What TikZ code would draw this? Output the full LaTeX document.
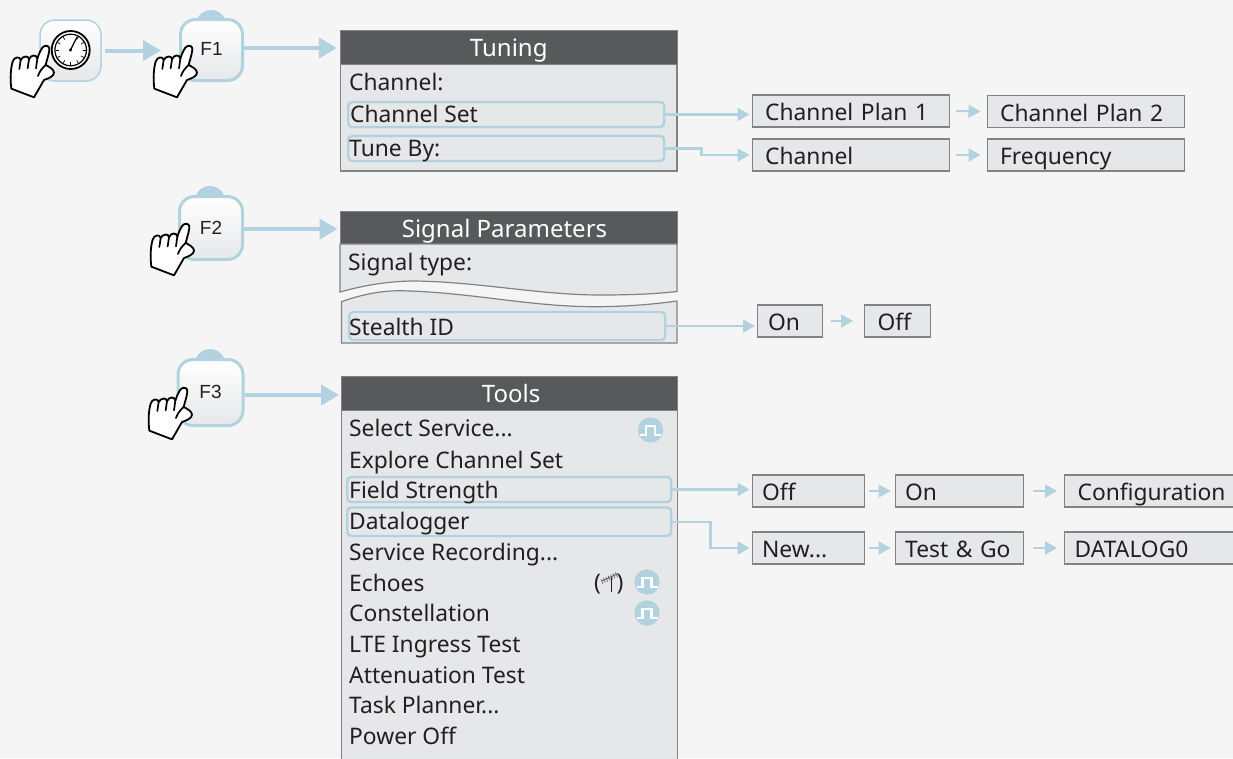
\documentclass[tikz,border=0pt]{standalone}
\usepackage{fontspec}
\setmainfont{Noto Sans}
\newfontfamily\btnfont{Liberation Sans}
\usetikzlibrary{arrows.meta,calc}
\definecolor{bg}{HTML}{F5F5F5}
\definecolor{hl}{HTML}{B1D2DE}
\definecolor{bodyc}{HTML}{E6E7E9}
\definecolor{titlec}{HTML}{58595B}
\definecolor{edge}{HTML}{808285}
\definecolor{ink}{HTML}{231F20}
\tikzset{
  x=1pt,y=-1pt,
  txt/.style={font=\fontsize{22.8}{26}\selectfont,text=ink,inner sep=0pt},
  lbl/.style={txt,anchor=base west},
  panel/.style={draw=edge,line width=1.2pt,fill=bodyc,inner sep=0pt},
  titlebar/.style={fill=titlec,draw=edge,line width=1pt,text=white,font=\fontsize{24}{28}\selectfont,inner sep=0pt,anchor=north,text height=21pt,text depth=3pt},
  boxn/.style={draw=edge,line width=1.3pt,fill=bodyc,txt,minimum height=32pt,text height=20pt,text depth=1pt,anchor=west,align=left,inner xsep=10pt},
  row/.style={draw=hl,line width=2.4pt,rounded corners=4pt,inner sep=0pt,anchor=west},
  thin/.style={draw=hl,line width=2.2pt,-{Triangle[length=12pt,width=13pt]},shorten >=2pt},
  thick/.style={draw=hl,line width=4pt,-{Triangle[length=18pt,width=20pt]}},
  small/.style={draw=hl,line width=2pt,-{Triangle[length=12pt,width=13pt]}},
  btn/.style={draw=hl,line width=3pt,rounded corners=15pt,top color=white,bottom color=bodyc,inner sep=0pt,font=\btnfont\fontsize{19}{22}\selectfont,text=ink},
  pics/hand/.style={code={
    \begin{scope}[scale=1/3,shift={(-133,-138)}]
    \draw[line width=1.8pt,fill=white,line join=round,draw=black]
      (100,292) -- (32,266) .. controls (28,235) and (30,205) .. (36,185)
      .. controls (40,170) and (58,168) .. (60,180)
      .. controls (66,168) and (84,165) .. (85,178)
      .. controls (90,164) and (108,162) .. (110,176)
      .. controls (115,160) and (122,145) .. (128,140)
      .. controls (136,134) and (148,138) .. (146,150)
      .. controls (144,165) and (138,182) .. (135,195)
      .. controls (145,200) and (160,208) .. (160,218)
      .. controls (160,228) and (145,235) .. (130,240) -- cycle;
    \draw[line width=1.7pt,line cap=round] (60,180) -- (56,207) (85,178) -- (81,205) (110,176) -- (106,205)
      (112,228) .. controls (116,215) and (124,205) .. (135,195);
    \end{scope}}},
  pics/pulse/.style={code={
    \fill[hl] (0,0) circle (12.7);
    \draw[white,line width=2.2pt] (-10.5,4.7) -- (-4.5,4.7) -- (-4.5,-4) -- (4.5,-4) -- (4.5,4.7) -- (10.5,4.7);}}
}
\begin{document}
\begin{tikzpicture}
\fill[bg] (0,0) rectangle (1233,758);
\useasboundingbox (0,0) rectangle (1233,758);
\clip (0,0) rectangle (1233,758);

% bumps
\fill[hl] (196,21) .. controls (200,12) and (206,10) .. (211,10) .. controls (216,10) and (222,12) .. (226,21) -- cycle;
\fill[hl] (195,197) .. controls (199,188) and (205,186) .. (210,186) .. controls (215,186) and (221,188) .. (225,197) -- cycle;
\fill[hl] (195,360) .. controls (199,351) and (205,349) .. (210,349) .. controls (215,349) and (221,351) .. (225,360) -- cycle;

% buttons
\node[btn,line width=1.5pt,minimum width=61pt,minimum height=61pt] (b0) at (70.5,50.5) {};
\node[btn,minimum width=62pt,minimum height=61pt] (f1) at (211.5,50) {\raisebox{2pt}{F1}};
\node[btn,minimum width=63pt,minimum height=63pt] (f2) at (211,228) {\raisebox{1pt}{F2}};
\node[btn,minimum width=65pt,minimum height=66pt] (f3) at (210.5,392.5) {\raisebox{1pt}{F3}};

% gauge
\fill[white,draw=black,line width=1.8pt] (70.7,50) circle (19);
\draw[black,line width=1.2pt] (70.7,50) circle (15.8);
\foreach \a in {-60,-30,...,240}{\draw[black,line width=.7pt] ($(70.7,50)+({15*cos(\a)},{15*sin(\a)})$) -- ($(70.7,50)+({12*cos(\a)},{12*sin(\a)})$);}
\draw[black,line width=1.3pt,line cap=round] (70.5,50) -- (77,37);
\fill[black] (70.5,50) circle (1.6);

% Tuning panel
\node[panel,minimum width=336.5pt,minimum height=140pt] (tuning) at (508.75,101) {};
\node[titlebar,minimum width=336.5pt,minimum height=34pt] (tuningt) at (tuning.north) {Tuning};
\node[lbl] (ch) at (349,90) {Channel:};
\node[row,minimum width=316pt,minimum height=25pt] (rcs) at (347,114.5) {};
\node[lbl] (tcs) at (350,122) {Channel Set};
\node[row,minimum width=316pt,minimum height=25pt] (rtb) at (347,148.5) {};
\node[lbl] (ttb) at (349,156) {Tune By:};

% Signal panel
\node[titlebar,minimum width=337pt,minimum height=33pt] (sigt) at (508.5,211) {Signal Parameters\hspace*{8pt}};
\draw[panel] (340,244) -- (340,292) .. controls (365,285) and (390,281) .. (415,281) .. controls (480,282) and (540,295) .. (600,295) .. controls (630,295) and (655,294) .. (677,291.5) -- (677,244) -- cycle;
\draw[panel] (341.5,301.7) .. controls (360,295) and (380,290.7) .. (400,290.7) .. controls (470,292) and (530,307) .. (597,306.7) .. controls (630,306.5) and (655,304) .. (677,301) -- (677,343) -- (341.5,343) -- cycle;
\node[lbl] (tst) at (348,270) {Signal type:};
\node[row,minimum width=316pt,minimum height=28pt] (rst) at (348,326) {};
\node[lbl] (tsid) at (349,335) {Stealth ID};

% Tools panel
\node[panel,anchor=north west,minimum width=336pt,minimum height=420pt] (tools) at (341,376) {};
\node[titlebar,minimum width=336pt,minimum height=34pt] (toolst) at (tools.north) {\hspace*{3pt}Tools};
\node[lbl] (t1) at (349,436) {Select Service...};
\node[lbl] (t2) at (349,468) {Explore Channel Set};
\node[row,minimum width=324pt,minimum height=25pt] (rfs) at (346,489.5) {};
\node[lbl] (t3) at (349,498) {Field Strength};
\node[row,minimum width=324pt,minimum height=28.5pt] (rdl) at (346,521.75) {};
\node[lbl] (t4) at (349,529) {Datalogger};
\node[lbl] (t5) at (349,560) {Service Recording...};
\node[lbl] (t6) at (349,591) {Echoes};
\node[lbl] (t7) at (349,621) {Constellation};
\node[lbl] (t8) at (349,652) {LTE Ingress Test};
\node[lbl] (t9) at (349,683) {Attenuation Test};
\node[lbl] (t10) at (349,713) {Task Planner...};
\node[lbl] (t11) at (349,744) {Power Off};
\pic at (650.5,430) {pulse};
\pic at (647,582) {pulse};
\pic at (647,613) {pulse};
% antenna
\node[lbl] (pl) at (594,590) {(};
\node[lbl] (pr) at (616.5,590) {)};
\draw[ink,line width=1pt] (611,577) -- (611,592);
\draw[ink!70,line width=1pt] (602,581) -- (618,573.5);
\foreach \t in {0,.15,...,1}{\draw[ink!70,line width=.6pt] ($(602,581)+\t*(16,-7.5)+(-1,-2)$) -- ($(602,581)+\t*(16,-7.5)+(1,3)$);}

% Boxes
\node[boxn,minimum width=197pt,text width=171pt,inner xsep=13pt] (cp1) at (751.5,111) {Channel Plan 1};
\node[boxn,minimum width=197pt,text width=171pt,inner xsep=13pt] (cp2) at (986.5,111.5) {Channel Plan 2};
\node[boxn,minimum width=197pt,text width=171pt,inner xsep=13pt] (bch) at (751.5,155) {Channel};
\node[boxn,minimum width=197pt,text width=171pt,inner xsep=13pt] (bfr) at (986.5,155) {Frequency};
\node[boxn,minimum width=64.5pt,text width=43.5pt,inner xsep=10.5pt] (bon) at (757,321) {On};
\node[boxn,minimum width=65.5pt,text width=39.5pt,inner xsep=13pt] (bof) at (864,321) {Off};
\node[boxn,minimum width=112pt,text width=92pt,inner xsep=10pt] (foff) at (751.5,491) {Off};
\node[boxn,minimum width=128.5pt,text width=108.5pt,inner xsep=10pt] (fon) at (894.5,491) {On};
\node[boxn,minimum width=178pt,text width=152pt,inner xsep=13pt] (fcf) at (1064,491) {Configuration};
\node[boxn,minimum width=112pt,text width=92pt,inner xsep=10pt] (nnew) at (751.5,548) {New...};
\node[boxn,minimum width=128.5pt,text width=108.5pt,inner xsep=10pt] (ntg) at (894.5,548) {Test \& Go};
\node[boxn,minimum width=178pt,text width=158pt,inner xsep=10pt] (ndl) at (1064,548) {DATALOG0};

% thick arrows
\draw[thick,shorten <=3pt,shorten >=18pt] (b0.east) -- (b0.east -| f1.west);
\draw[thick,shorten >=3pt] ([yshift=2pt]f1.east) -- ([yshift=2pt]f1.east -| tuning.west);
\draw[thick,shorten >=2pt] ([yshift=-1pt]f2.east) -- ([yshift=-1pt]f2.east -| sigt.west);
\draw[thick,shorten >=2pt] ([yshift=-2.5pt]f3.east) -- ([yshift=-2.5pt]f3.east -| tools.west);

% thin arrows
\draw[thin] (rcs.east) -- (rcs.east -| cp1.west);
\draw[thin] (rtb.east) -- ++(36,0) |- (bch.west);
\draw[thin] (rst.east) -- (rst.east -| bon.west);
\draw[thin] (rfs.east) -- (rfs.east -| foff.west);
\draw[thin] (rdl.east) -- ++(38,0) |- (nnew.west);

% small arrows
\draw[small,shorten <=6pt,shorten >=6pt] (cp1.east) -- (cp2.west);
\draw[small,shorten <=6pt,shorten >=6pt] (bch.east) -- (bfr.west);
\draw[small,shorten <=8pt,shorten >=11pt] (bon.east) -- (bof.west);
\draw[small,shorten <=4pt,shorten >=4pt] (foff.east) -- (fon.west);
\draw[small,shorten <=9pt,shorten >=7pt] (fon.east) -- (fcf.west);
\draw[small,shorten <=4pt,shorten >=4pt] (nnew.east) -- (ntg.west);
\draw[small,shorten <=9pt,shorten >=7pt] (ntg.east) -- (ndl.west);

% hands
\pic at (45,46) {hand};
\pic at (188,46) {hand};
\pic at (185,224) {hand};
\pic at (183,388) {hand};
\end{tikzpicture}
\end{document}
